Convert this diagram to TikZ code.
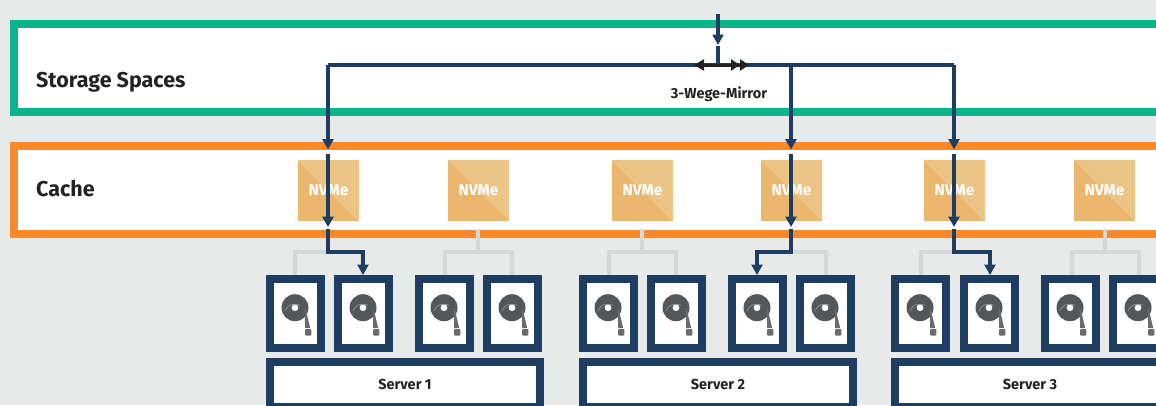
\documentclass[tikz,border=0pt]{standalone}
\usepackage{fontspec}
\setmainfont{Fira Sans}
\usetikzlibrary{arrows.meta,calc}
\definecolor{bgc}{HTML}{E8E9E9}
\definecolor{navy}{HTML}{1D3E62}
\definecolor{greenc}{HTML}{0BB58C}
\definecolor{orangec}{HTML}{F78A2E}
\definecolor{grayc}{HTML}{D5D8D8}
\definecolor{nvlight}{HTML}{ECC586}
\definecolor{nvdark}{HTML}{EBB66E}
\definecolor{discc}{HTML}{54575A}
\definecolor{inkc}{HTML}{222222}
\tikzset{
  x=1pt,y=-1pt,
  band/.style={draw=#1,line width=8pt,fill=white,anchor=north west,inner sep=0pt,outer sep=0pt,minimum height=88pt,minimum width=1200pt},
  nvme/.style={anchor=north west,minimum size=61pt,inner sep=0pt,outer sep=0pt,text=white,font=\fontsize{15.5pt}{17pt}\selectfont\bfseries},
  drive/.style={draw=navy,line width=8pt,fill=white,anchor=north west,minimum width=51pt,minimum height=69pt,inner sep=0pt,outer sep=0pt},
  server/.style={draw=navy,line width=8pt,fill=white,anchor=north west,minimum width=270pt,minimum height=45pt,inner sep=0pt,outer sep=0pt,text=inkc,font=\fontsize{14.5pt}{16pt}\selectfont\bfseries},
  heading/.style={anchor=west,inner sep=0pt,text=inkc,font=\fontsize{21.5pt}{24pt}\selectfont\bfseries},
  small/.style={inner sep=0pt,text=inkc,font=\fontsize{14.5pt}{16pt}\selectfont\bfseries},
  link/.style={draw=navy,line width=4pt},
  linkarrow/.style={link,-{Triangle[length=10.5pt,width=11pt,fill=navy]}},
  graylink/.style={draw=grayc,line width=4pt},
  mirror/.style={draw=inkc,line width=3pt},
}
\newcommand{\nvmebox}[3]{% name, x, y
  \node[nvme] (#1) at (#2,#3) {};
  \fill[nvlight] (#1.north west) -- (#1.north east) -- (#1.south east) -- cycle;
  \fill[nvdark] (#1.north west) -- (#1.south west) -- (#1.south east) -- cycle;
  \node[text=white,font=\fontsize{15.5pt}{17pt}\selectfont\bfseries,inner sep=0pt] (#1t) at (#1.center) {NVMe};
}
\newcommand{\drivebox}[2]{% name, x
  \node[drive] (#1) at (#2+4,279) {};
  \begin{scope}[shift={(#2,275)}]
    \fill[discc,even odd rule] (29,32.7) circle (13.5) (29,32.7) circle (3.5);
    \draw[gray!70,line width=.5pt] (19,36) arc (200:300:10.5);
    \fill[discc!88!white] (38.6,33) -- (39.4,33) -- (44.2,53) -- (39.2,53) -- cycle;
    \fill[discc!88!white,rounded corners=1pt] (39,54) -- (45.3,54) -- (45.3,60.7) -- (39,60.7) -- cycle;
  \end{scope}
}
\begin{document}
\begin{tikzpicture}
\useasboundingbox (0,0) rectangle (1156,405);
\clip (0,0) rectangle (1156,405);
\fill[bgc] (0,0) rectangle (1156,405);
% bands
\node[band=greenc] (storage) at (14,23.5) {};
\node[band=orangec] (cache) at (14,146) {};
\node[heading] (lstorage) at (36,82) {Storage Spaces};
\node[heading] (lcache) at (36,189) {Cache};
\node[small] (lmirror) at (719,94) {3-Wege-Mirror};
% NVMe
\nvmebox{n1}{298}{160}
\nvmebox{n2}{448}{160}
\nvmebox{n3}{612}{160}
\nvmebox{n4}{761}{160}
\nvmebox{n5}{924}{160}
\nvmebox{n6}{1074}{160}
% gray connectors
\foreach \nm/\tx/\lx/\rx in {n1/328/295/362,n2/478/445/512,n3/642/609/676,n4/791/757/826,n5/954/921/990,n6/1105/1072/1139}{
  \coordinate (g\nm t) at (\tx,229);
  \coordinate (g\nm j) at (\tx,252);
  \coordinate (g\nm l) at (\lx,275);
  \coordinate (g\nm r) at (\rx,275);
  \draw[graylink] (g\nm t) -- (g\nm j);
  \draw[graylink] (g\nm l) |- (g\nm j) -| (g\nm r);
}
% drives
\foreach \nm/\dx in {d1/266,d2/334,d3/415,d4/483,d5/579,d6/647,d7/728,d8/796,d9/891,d10/960,d11/1041,d12/1109}{
  \drivebox{\nm}{\dx}
}
% servers
\node[server] (s1) at (270,362) {Server 1};
\node[server] (s2) at (583,362) {Server 2};
\node[server] (s3) at (895,362) {Server 3};
% blue routes
\coordinate (top) at (718,14);
\coordinate (topa) at (718,45);
\coordinate (topb) at (718,46);
\coordinate (bus) at (718,65);
\coordinate (c1) at (328,65);
\coordinate (c2) at (791,65);
\coordinate (c3) at (954,65);
\draw[linkarrow] (top) -- (topa);
\draw[link] (topb) -- (bus);
\draw[link] (c1) -- (c3);
\foreach \nm/\c/\ex in {n1/c1/363,n4/c2/757,n5/c3/990}{
  \coordinate (\nm a) at (\c |- 0,149.5);
  \coordinate (\nm b) at (\c |- 0,154);
  \coordinate (\nm c) at (\c |- 0,227);
  \coordinate (\nm d) at (\c |- 0,229);
  \coordinate (\nm e) at (\c |- 0,252);
  \coordinate (\nm f) at (\ex,275);
  \draw[linkarrow] (\c) -- (\nm a);
  \draw[linkarrow] (\nm b) -- (\nm c);
  \draw[linkarrow] (\nm d) -- (\nm e) -| (\nm f);
}
% mirror arrows
\coordinate (ml) at (694,65);
\coordinate (mr) at (749,65);
\draw[mirror,{Triangle[length=10pt,width=11pt,fill=inkc]}-{Triangle[length=9pt,width=11pt,fill=inkc]Triangle[length=9pt,width=11pt,fill=inkc]}] (ml) -- (mr);
\end{tikzpicture}
\end{document}
